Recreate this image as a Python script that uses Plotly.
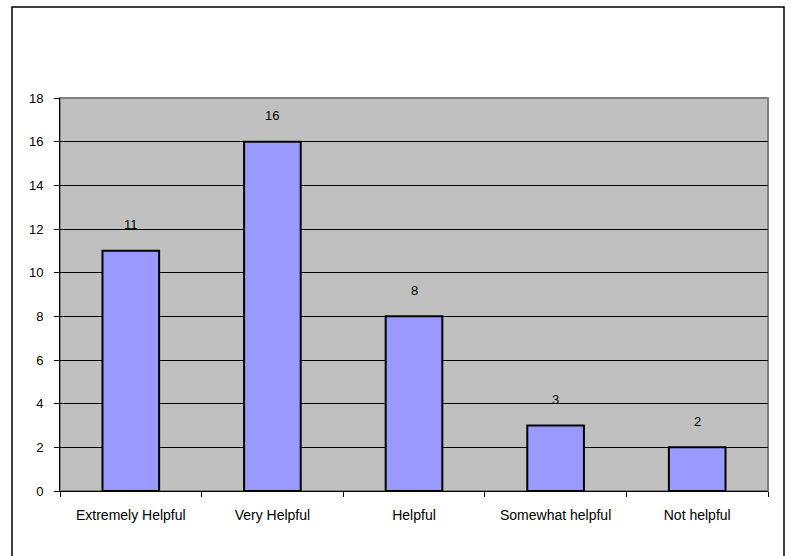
import plotly.graph_objects as go

categories = ["Extremely Helpful", "Very Helpful", "Helpful", "Somewhat helpful", "Not helpful"]
values = [11, 16, 8, 3, 2]
y_ticks = [0, 2, 4, 6, 8, 10, 12, 14, 16, 18]

W, H = 791, 556
L, R, T, B = 60, 23, 98, 65
pw, ph = W - L - R, H - T - B
FONT = "Liberation Sans, Arial"

def px_x(x):
    return (x - L) / pw

def px_y(y):
    return (H - B - y) / ph

fig = go.Figure()
fig.add_trace(go.Bar(
    x=categories, y=values, width=0.4,
    marker=dict(color="#9999FF", line=dict(color="black", width=2)),
    hoverinfo="skip",
))
for c, v in zip(categories, values):
    fig.add_annotation(x=c, y=v, text=str(v), showarrow=False, yanchor="middle",
                       yshift=26, font=dict(family=FONT, size=13, color="black"))

fig.add_shape(type="rect", xref="paper", yref="paper", x0=0, y0=0, x1=1, y1=1,
              line=dict(color="#808080", width=2), layer="below")
fig.add_shape(type="rect", xref="paper", yref="paper",
              x0=px_x(12), x1=px_x(784), y0=px_y(562), y1=px_y(7),
              line=dict(color="black", width=1.5))

fig.update_layout(
    width=W, height=H,
    margin=dict(l=L, r=R, t=T, b=B),
    paper_bgcolor="white", plot_bgcolor="#C0C0C0",
    showlegend=False, bargap=0.6,
    font=dict(family=FONT, size=13, color="black"),
    xaxis=dict(type="category", tickson="boundaries", ticks="outside", ticklen=5,
               tickcolor="black", showline=True, linecolor="black", linewidth=1,
               showgrid=False, tickfont=dict(size=14), range=[-0.5, 4.5],
               ticklabelstandoff=11),
    yaxis=dict(range=[0, 18], tickvals=y_ticks, ticks="outside", ticklen=5,
               tickcolor="black", showline=True, linecolor="black", linewidth=1,
               showgrid=True, gridcolor="black", gridwidth=1, zeroline=False,
               tickfont=dict(size=13), ticklabelstandoff=8),
)

fig.write_html("out.html", config={"displayModeBar": False},
               post_script="document.body.style.margin='0';document.body.style.padding='0';")
